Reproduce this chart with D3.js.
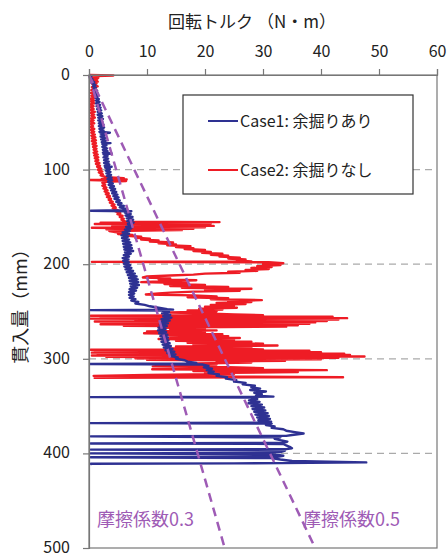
<!DOCTYPE html>
<html>
<head>
<meta charset="utf-8">
<script src="https://cdn.jsdelivr.net/npm/d3@7"></script>
<style>
  body { margin: 0; background: #fff; }
  svg { font-family: "Noto Sans CJK JP", "Noto Sans", sans-serif; }
</style>
</head>
<body>
<div id="chart"></div>
<script>
// [depth mm, torque N・m]
// Case1: 余掘りあり
const case1Points = [
  [0,0],[1.5,0.4],[3,0.2],[4.5,0.6],[6,0.4],[7.5,0.9],[9,0.6],[10.5,1.1],[12,0.7],[13.5,1.2],[15,0.8],[16.5,1.4],[18,0.9],[19.5,1.5],
  [21,1.0],[22.5,1.6],[24,1.1],[25.5,1.7],[27,1.2],[28.5,1.8],[30,1.2],[31.5,1.9],[33,1.3],[34.5,2.0],[36,1.4],[37.5,2.1],[39,1.5],
  [40.5,2.2],[42,1.5],[43.5,2.3],[45,1.6],[46.5,2.4],[48,1.6],[49.5,2.3],[51,1.7],[52.5,2.5],[54,1.7],[55.5,2.6],[57,1.8],[58.5,2.5],
  [60,1.8],[61,3.6],[62,2.0],[63.5,2.7],[65,2.0],[66.5,2.8],[68,2.1],[69.5,2.9],[71,2.2],[72,3.7],[73,2.3],[74.5,3.0],[76,2.3],
  [77.5,3.1],[79,2.4],[80.5,3.2],[82,2.4],[83,3.9],[84,2.5],[85.5,3.2],[87,2.5],[88.5,3.3],[90,2.6],[91.5,3.4],[93,2.6],[94.5,3.5],
  [96,2.7],[97,3.9],[98,2.8],[99.5,3.6],[101,2.9],[102.5,3.7],[104,3.0],[105.5,3.8],[107,3.1],[108.5,3.9],[110,3.2],[111.5,4.0],
  [113,3.3],[114.5,4.1],[116,3.4],[117.5,4.3],[119,3.6],[120.5,4.5],[122,3.8],[123.5,4.7],[125,4.0],[126.5,4.9],[128,4.2],[129.5,5.1],
  [131,4.4],[132.5,5.3],[134,4.7],[135.5,5.6],[137,5.0],[138.5,6.0],[140,5.3],[141.5,6.4],[143,5.8],[143.5,0.3],[144,7.3],[145.5,6.2],
  [147,7.2],[148.5,6.3],[150,7.5],[151.5,6.5],[153,7.6],[154.5,6.6],[156,7.7],[157.5,6.7],[159,7.4],[160.5,6.4],[162,7.3],[163.5,6.2],
  [165,7.0],[166.5,5.8],[168,6.9],[169.5,5.6],[171,6.7],[172.5,5.7],[174,6.9],[175.5,5.8],[177,7.1],[178.5,5.9],[180,7.3],[181.5,6.0],
  [183,7.4],[184.5,6.1],[186,7.6],[187.5,6.2],[189,7.2],[190.5,6.0],[192,6.9],[193.5,5.8],[195,6.8],[196.5,5.9],[198,6.9],[199.5,6.0],
  [201,7.1],[202.5,6.1],[204,7.3],[205.5,6.3],[207,7.6],[208.5,6.5],[210,7.9],[211.5,6.7],[213,8.2],[214.5,6.9],[216,8.4],[217.5,7.0],
  [219,8.5],[220.5,7.1],[222,8.6],[223.5,7.2],[225,8.3],[226.5,7.0],[228,8.1],[229.5,6.9],[231,7.8],[232.5,6.9],[234,7.7],[235.5,7.0],
  [237,8.0],[238.5,7.3],[240,8.5],[241.5,8.0],[243,9.6],[244.5,10.5],[246,12.0],[247.5,13.5],[248,14.5],[248.5,0.2],[249,12.5],
  [250.5,13.8],[252,12.6],[253.5,14.0],[255,12.8],[256.5,14.2],[258,12.5],[259.5,13.9],[261,12.3],[262.5,13.6],[264,12.2],[265.5,13.4],
  [267,12.0],[268.5,13.2],[270,11.9],[271.5,13.3],[273,12.1],[274.5,13.5],[276,12.3],[277.5,13.6],[279,12.4],[280.5,13.7],[282,12.5],
  [283.5,13.9],[285,12.7],[286.5,14.1],[288,12.9],[289.5,14.4],[291,13.2],[292.5,14.7],[294,13.5],[295.5,14.9],[297,14.0],[298.5,15.3],
  [300,15.0],[301.5,16.5],[303,17.0],[304.5,18.5],[305,17.8],[305.5,0.2],[306,19.5],[307.5,20.6],[309,19.8],[310.5,21.2],[312,20.3],
  [313.5,21.5],[315,20.6],[316.5,22.4],[318,22.0],[319.5,23.8],[321,23.6],[322.5,25.4],[324,25.0],[325.5,27.0],[327,26.5],[328.5,28.6],
  [330,28.0],[331.5,29.5],[333,27.8],[334.5,30.5],[336,28.5],[337.5,29.8],[339,28.8],[340,31.8],[340.5,0.2],[341,27.8],[342.5,29.0],
  [344,27.6],[345.5,29.4],[347,27.5],[348.5,29.8],[350,28.0],[351.5,30.2],[353,28.2],[354.5,30.4],[356,28.5],[357.5,30.8],[359,28.7],
  [360.5,31.0],[362,29.0],[363.5,31.2],[365,29.2],[366.5,31.4],[367.5,30.0],[368,0.2],[368.5,31.5],[370,30.5],[371.5,32.0],[373,31.5],
  [374.5,33.5],[376,34.0],[377.5,35.5],[379,37.0],[380.5,35.0],[381.5,34.0],[382,0.3],[383,33.0],[384.5,32.0],[386,33.0],[387.5,34.2],
  [389,33.5],[389.5,0.3],[390,33.5],[391.5,34.0],[393,34.6],[394.5,35.0],[395.5,34.0],[396,0.3],[397,33.8],[398.5,33.0],[399.5,31.5],
  [400,0.3],[401,32.0],[402.5,33.5],[403.5,32.5],[404,0.3],[405,31.5],[406.5,33.0],[408,35.0],[409.5,47.8],[410.5,25.0],[411,0.3],[412,0.2]
];

// Case2: 余掘りなし
const case2Points = [
  [0,0],[0.5,4.2],[1,1.2],[2,0.5],[3,1.6],[4,0.6],[5,1.4],[6,0.8],[7,1.5],[8,0.4],[9,1.3],[10,0.6],[12,1.5],[13,0.5],[15,1.2],[16,0.4],
  [18,1.4],[19,0.3],[21,1.1],[22,0.4],[24,1.0],[25,0.2],[27,0.9],[28,0.3],[30,0.9],[31,0.2],[33,0.8],[34,0.3],[36,0.8],[37,0.2],[39,1.0],
  [40,0.3],[42,0.9],[43,0.4],[45,1.0],[46,0.3],[48,0.8],[49,0.2],[51,0.9],[52,0.3],[54,0.7],[55,0.2],[57,0.9],[58,0.3],[60,0.9],[61,0.4],
  [63,1.0],[64,0.4],[66,1.1],[67,0.5],[69,1.2],[70,0.5],[72,1.2],[73,0.6],[75,1.3],[76,0.7],[78,1.3],[79,0.8],[81,1.4],[82,0.8],[84,1.5],
  [85,0.9],[87,1.6],[88,1.0],[90,1.6],[91,1.1],[93,1.8],[94,1.2],[96,1.9],[97,1.4],[99,2.1],[100,1.5],[102,2.3],[103,1.7],[105,2.4],
  [106,2.0],[108,3.0],[109,6.0],[110,2.2],[110.5,6.5],[111,0.2],[112,6.4],[113,3.0],[114,2.3],[116,2.8],[117,2.3],[119,3.0],[120,2.5],
  [122,3.2],[123,2.7],[125,3.4],[126,2.9],[128,3.6],[129,3.1],[131,3.8],[132,3.4],[134,4.1],[135,3.6],[137,4.4],[138,3.9],[140,4.6],
  [141,4.1],[143,5.0],[144,4.5],[146,5.4],[147,4.9],[149,5.8],[150,5.3],[152,6.0],[153,5.6],[155,6.3],[155.5,22.5],[156,2.0],[157,21.0],
  [157.5,1.0],[158,19.5],[159,6.0],[159.5,21.5],[160,4.0],[161,20.0],[161.5,0.5],[162.5,18.0],[163,3.0],[164,16.0],[165,3.5],[166,4.5],
  [167,6.0],[168,5.0],[169,7.5],[170,6.5],[171,9.0],[172,8.0],[173,10.5],[174,9.0],[175,12.0],[176,10.5],[177,14.5],[178,12.0],
  [179,15.0],[180,13.5],[181,17.5],[182,15.0],[183,18.0],[184,16.5],[185,20.0],[186,18.0],[187,21.0],[188,19.5],[189,23.0],[190,21.0],
  [191,24.0],[192,22.5],[193,26.0],[194,24.0],[195,27.0],[196,25.5],[197,28.0],[197.5,0.5],[198,31.0],[199,33.5],[200,30.0],[201,33.0],
  [202,29.0],[203,31.5],[204,28.0],[205,31.0],[206,27.0],[207,29.0],[208,24.0],[209,26.0],[210,20.0],[211,18.0],[212,14.0],[213,10.0],
  [214,9.3],[215,14.0],[216,12.0],[217,18.5],[218,13.0],[219,9.0],[220,17.0],[221,13.0],[222,20.0],[223,14.0],[224,24.0],[225,16.0],
  [226,28.0],[227,20.0],[228,26.0],[229,18.0],[230,14.0],[231,12.0],[232,9.8],[233,18.0],[234,22.0],[235,17.0],[236,24.0],[237,21.0],
  [238,29.8],[239,24.0],[240,28.0],[241,22.0],[242,27.0],[243,21.0],[244,25.0],[245,20.0],[246,25.5],[247,19.0],[248,23.0],[249,17.0],
  [250,22.0],[251,14.0],[252,20.0],[253,25.0],[254,30.0],[254.5,0.3],[255.5,42.0],[256,2.0],[257,44.5],[257.5,0.2],[258.5,43.0],[259,8.0],
  [260,41.0],[260.5,1.0],[261.5,39.0],[262,4.0],[263,38.0],[263.5,2.0],[264.5,36.0],[265,6.0],[266,34.0],[267,12.0],[268,20.0],[269,14.0],
  [270,22.0],[271,10.0],[272,20.0],[273,9.5],[274,23.0],[275,13.0],[276,24.0],[277,14.0],[278,26.0],[279,12.0],[280,25.0],[281,15.0],
  [282,28.0],[283,17.0],[284,30.0],[285,18.0],[286,32.5],[287,15.0],[288,28.0],[289,14.0],[290,30.0],[290.5,0.3],[291.5,38.0],[292,1.0],
  [293,40.0],[293.5,0.5],[294.5,44.0],[295,1.5],[296,45.0],[296.5,0.5],[297.5,47.5],[298,3.0],[299,43.0],[299.5,8.0],[300.5,40.0],
  [301,10.0],[302,33.8],[303,22.0],[304,28.0],[305,18.0],[306,22.0],[307,13.0],[308,11.0],[309,24.0],[310,30.0],[311,10.9],[312,41.0],
  [313,18.0],[314,36.0],[315,20.0],[316,25.0],[317,10.0],[318,0.8],[319.5,43.8],[320,0.8]
];

// 摩擦係数 lines: torque reached at 500 mm
const frictionCoef = [0.3, 0.5];
const frictionTorqueAt500 = [23.4, 39.0];

const xTicks = [0, 10, 20, 30, 40, 50, 60];
const yTicks = [0, 100, 200, 300, 400, 500];
const gridDepths = [100, 200, 300, 400];

const W = 448, H = 557;
const svg = d3.select("#chart").append("svg")
    .attr("width", W)
    .attr("height", H);

const x = d3.scaleLinear().domain([0, 60]).range([89, 437]);
const y = d3.scaleLinear().domain([0, 500]).range([75, 548]);

// grid
svg.append("g")
    .selectAll("line")
    .data(gridDepths)
    .enter()
    .append("line")
    .attr("x1", x(0))
    .attr("x2", x(60))
    .attr("y1", d => y(d))
    .attr("y2", d => y(d))
    .attr("stroke", "#aaa")
    .attr("stroke-width", 1.2)
    .attr("stroke-dasharray", "7,5");

const line = d3.line()
    .x(d => x(d[1]))
    .y(d => y(d[0]));

svg.append("path")
    .datum(case2Points)
    .attr("d", line)
    .attr("fill", "none")
    .attr("stroke", "#ee1c25")
    .attr("stroke-width", 2.4)
    .attr("stroke-linejoin", "round");

svg.append("path")
    .datum(case1Points)
    .attr("d", line)
    .attr("fill", "none")
    .attr("stroke", "#2e3192")
    .attr("stroke-width", 2.4)
    .attr("stroke-linejoin", "round");

// friction lines
svg.append("g")
    .selectAll("line")
    .data(frictionTorqueAt500)
    .enter()
    .append("line")
    .attr("x1", x(0))
    .attr("y1", y(0))
    .attr("x2", d => x(d))
    .attr("y2", y(500))
    .attr("stroke", "#9e5bb5")
    .attr("stroke-width", 2.5)
    .attr("stroke-dasharray", "9,6");

svg.append("g")
    .selectAll("text")
    .data(frictionCoef)
    .enter()
    .append("text")
    .attr("x", (d, i) => i === 0 ? 97 : 303)
    .attr("y", 526)
    .attr("fill", "#9e5bb5")
    .style("font-size", "18px")
    .text(d => "摩擦係数" + d);

// frame
svg.append("rect")
    .attr("x", x(0))
    .attr("y", y(0))
    .attr("width", x(60) - x(0))
    .attr("height", y(500) - y(0))
    .attr("fill", "none")
    .attr("stroke", "#777")
    .attr("stroke-width", 1.2);

// axes
const xAxis = svg.append("g")
    .attr("transform", `translate(0,${y(0)})`)
    .call(d3.axisTop(x).tickValues(xTicks).tickSize(6).tickPadding(12));
const yAxis = svg.append("g")
    .attr("transform", `translate(${x(0)},0)`)
    .call(d3.axisLeft(y).tickValues(yTicks).tickSize(6).tickPadding(13));

[xAxis, yAxis].forEach(a => {
    a.select(".domain").attr("stroke", "#777").attr("stroke-width", 1.2);
    a.selectAll(".tick line").attr("stroke", "#777").attr("stroke-width", 1.2);
    a.selectAll(".tick text")
        .attr("fill", "#222")
        .style("font-size", "16px")
        .style("font-family", "'Noto Sans CJK JP', sans-serif");
});
yAxis.selectAll(".tick text").attr("dy", "0.28em");

// titles
svg.append("text")
    .attr("x", 252)
    .attr("y", 28)
    .attr("text-anchor", "middle")
    .attr("fill", "#222")
    .style("font-size", "17px")
    .text("回転トルク （N・m）");

svg.append("text")
    .attr("transform", "translate(27,302) rotate(-90)")
    .attr("text-anchor", "middle")
    .attr("fill", "#222")
    .style("font-size", "18px")
    .text("貫入量（mm）");

// legend
const legend = svg.append("g");
legend.append("rect")
    .attr("x", 183).attr("y", 95)
    .attr("width", 230).attr("height", 99)
    .attr("fill", "#fff")
    .attr("stroke", "#333")
    .attr("stroke-width", 1.2);

const legendItems = [
    {label: "Case1: 余掘りあり", color: "#2e3192"},
    {label: "Case2: 余掘りなし", color: "#ee1c25"}
];
legendItems.forEach((d, i) => {
    const ly = 121 + i * 49;
    legend.append("line")
        .attr("x1", 208).attr("x2", 238)
        .attr("y1", ly).attr("y2", ly)
        .attr("stroke", d.color)
        .attr("stroke-width", 2);
    legend.append("text")
        .attr("x", 240)
        .attr("y", ly + 6)
        .attr("fill", "#222")
        .style("font-size", "16px")
        .text(d.label);
});
</script>
</body>
</html>
